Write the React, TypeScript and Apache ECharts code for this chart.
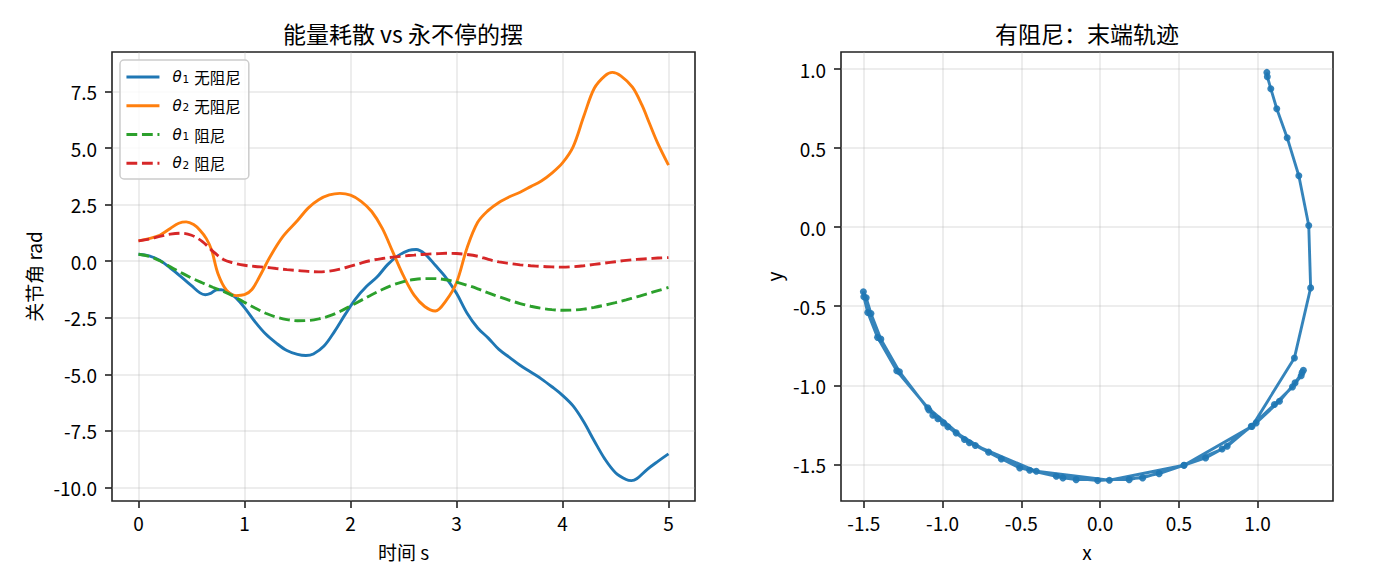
import React, { useEffect, useRef } from 'react';
import * as echarts from 'echarts';

const FONT = '"Noto Sans CJK SC", "Noto Sans", sans-serif';
const MATH = '"DejaVu Sans", sans-serif';

const BLUE = '#1f77b4';
const ORANGE = '#ff7f0e';
const GREEN = '#2ca02c';
const RED = '#d62728';
const DASH = [10.8, 4.7];

// 无阻尼：[t, rad]
const theta1Free: [number, number][] = [
  [0, 0.31], [0.1, 0.24], [0.2, 0.04], [0.3, -0.3], [0.4, -0.68], [0.5, -1.08], [0.58, -1.4], [0.63, -1.48],
  [0.68, -1.42], [0.74, -1.26], [0.78, -1.26], [0.85, -1.38], [0.92, -1.62], [1.0, -2.05], [1.1, -2.68],
  [1.2, -3.22], [1.3, -3.62], [1.4, -3.95], [1.5, -4.12], [1.58, -4.17], [1.65, -4.1], [1.75, -3.75],
  [1.85, -3.1], [1.95, -2.35], [2.05, -1.65], [2.15, -1.12], [2.25, -0.7], [2.35, -0.15], [2.45, 0.25],
  [2.55, 0.48], [2.62, 0.52], [2.7, 0.33], [2.8, -0.18], [2.9, -0.72], [3.0, -1.42], [3.1, -2.3],
  [3.2, -2.95], [3.3, -3.4], [3.4, -3.9], [3.5, -4.25], [3.6, -4.6], [3.7, -4.9], [3.8, -5.2], [3.9, -5.55],
  [4.0, -5.93], [4.1, -6.4], [4.2, -7.1], [4.3, -7.95], [4.4, -8.75], [4.5, -9.35], [4.6, -9.65],
  [4.65, -9.7], [4.7, -9.62], [4.8, -9.2], [4.9, -8.85], [5.0, -8.52],
];

const theta2Free: [number, number][] = [
  [0, 0.9], [0.1, 1.0], [0.2, 1.15], [0.3, 1.45], [0.38, 1.68], [0.45, 1.74], [0.52, 1.62], [0.58, 1.37],
  [0.64, 1.0], [0.69, 0.49], [0.75, -0.55], [0.83, -1.28], [0.92, -1.52], [1.0, -1.48], [1.07, -1.25],
  [1.14, -0.7], [1.24, 0.19], [1.36, 1.08], [1.5, 1.8], [1.6, 2.35], [1.7, 2.72], [1.8, 2.93], [1.9, 3.0],
  [2.0, 2.92], [2.1, 2.65], [2.2, 2.2], [2.3, 1.45], [2.4, 0.4], [2.5, -0.65], [2.6, -1.5], [2.7, -2.0],
  [2.8, -2.2], [2.9, -1.75], [3.0, -0.95], [3.1, 0.6], [3.2, 1.72], [3.3, 2.25], [3.4, 2.6], [3.5, 2.85],
  [3.6, 3.05], [3.7, 3.3], [3.8, 3.55], [3.9, 3.9], [4.0, 4.35], [4.1, 5.06], [4.2, 6.4], [4.3, 7.65],
  [4.4, 8.2], [4.47, 8.35], [4.55, 8.2], [4.66, 7.7], [4.75, 6.9], [4.82, 6.1], [4.9, 5.2], [5.0, 4.25],
];

// 阻尼：等间隔时间上的取值
const T = [
  0, 0.1, 0.2, 0.3, 0.4, 0.5, 0.6, 0.7, 0.8, 0.9, 1.0, 1.1, 1.2, 1.3, 1.4, 1.5, 1.6, 1.7, 1.8, 1.9, 2.0,
  2.1, 2.2, 2.3, 2.4, 2.5, 2.6, 2.7, 2.8, 2.9, 3.0, 3.1, 3.2, 3.3, 3.4, 3.5, 3.6, 3.7, 3.8, 3.9, 4.0,
  4.1, 4.2, 4.3, 4.4, 4.5, 4.6, 4.7, 4.8, 4.9, 5.0,
];
const theta1Damp = [
  0.31, 0.22, 0.02, -0.25, -0.5, -0.74, -0.95, -1.15, -1.33, -1.55, -1.82,
  -2.07, -2.3, -2.47, -2.58, -2.63, -2.62, -2.55, -2.42, -2.22, -1.98,
  -1.73, -1.48, -1.25, -1.05, -0.9, -0.81, -0.77, -0.77, -0.82, -0.92,
  -1.06, -1.22, -1.4, -1.57, -1.73, -1.87, -1.99, -2.08, -2.14, -2.17,
  -2.16, -2.12, -2.04, -1.94, -1.83, -1.71, -1.58, -1.44, -1.3, -1.16,
];
const theta2Damp = [
  0.9, 0.98, 1.1, 1.2, 1.24, 1.15, 0.88, 0.45, 0.08, -0.08, -0.18,
  -0.23, -0.27, -0.32, -0.37, -0.41, -0.45, -0.47, -0.44, -0.35, -0.22,
  -0.08, 0.04, 0.12, 0.18, 0.23, 0.27, 0.31, 0.33, 0.35, 0.34,
  0.3, 0.22, 0.08, -0.03, -0.1, -0.16, -0.2, -0.23, -0.25, -0.26,
  -0.24, -0.2, -0.14, -0.08, -0.02, 0.04, 0.08, 0.11, 0.14, 0.16,
];

// 有阻尼末端轨迹 (x, y)，按时间顺序
const tipPath: [number, number][] = [
  [1.059, 0.979], [1.062, 0.952], [1.084, 0.876], [1.122, 0.749], [1.188, 0.566], [1.262, 0.325],
  [1.325, 0.011], [1.337, -0.384], [1.234, -0.827], [0.965, -1.26], [0.533, -1.506], [0.059, -1.601],
  [-0.405, -1.544], [-0.83, -1.364], [-1.094, -1.142], [-1.291, -0.908], [-1.413, -0.697], [-1.475, -0.54],
  [-1.5, -0.44], [-1.503, -0.408],
  [-1.485, -0.447], [-1.455, -0.546], [-1.392, -0.708], [-1.274, -0.914], [-1.087, -1.157], [-0.914, -1.301],
  [-0.708, -1.423], [-0.51, -1.523], [-0.278, -1.576], [-0.015, -1.603], [0.27, -1.586], [0.533, -1.506],
  [0.775, -1.403], [0.991, -1.238], [1.139, -1.101], [1.238, -0.985], [1.283, -0.92], [1.291, -0.905],
  [1.277, -0.94], [1.222, -1.01], [1.107, -1.122], [0.96, -1.259], [0.807, -1.386], [0.67, -1.46],
  [0.375, -1.559], [0.185, -1.597], [-0.152, -1.597], [-0.236, -1.586], [-0.447, -1.538], [-0.627, -1.466],
  [-0.792, -1.381], [-0.861, -1.343], [-0.967, -1.263], [-0.994, -1.238], [-1.03, -1.212], [-1.062, -1.19],
];

const leftXTicks = [0, 1, 2, 3, 4, 5];
const leftYTicks = [-10, -7.5, -5, -2.5, 0, 2.5, 5, 7.5];
const tipTicks = [-1.5, -1, -0.5, 0, 0.5, 1];

const NAMES = ['θ1 无阻尼', 'θ2 无阻尼', 'θ1 阻尼', 'θ2 阻尼'];

// matplotlib 默认 5% 边距
function padRange(vals: number[]): [number, number] {
  const lo = Math.min(...vals);
  const hi = Math.max(...vals);
  const m = (hi - lo) * 0.05;
  return [lo - m, hi + m];
}

function valueAxis(opts: {
  grid: number; range: [number, number]; step: number; ticks: number[];
  fmt: (v: number) => string; name: string; gap: number; vertical: boolean;
}) {
  return {
    type: 'value',
    gridIndex: opts.grid,
    min: opts.range[0],
    max: opts.range[1],
    minInterval: opts.step,
    maxInterval: opts.step,
    name: opts.name,
    nameLocation: 'middle',
    nameGap: opts.gap,
    nameRotate: opts.vertical ? 90 : 0,
    nameTextStyle: { fontFamily: FONT, fontSize: 19, color: '#000' },
    axisLine: { show: false, onZero: false },
    axisTick: {
      show: true, inside: false, length: 7, customValues: opts.ticks,
      lineStyle: { color: '#222', width: 1.6 },
    },
    axisLabel: {
      show: true, customValues: opts.ticks, fontFamily: FONT, fontSize: 19, color: '#000',
      margin: opts.vertical ? 15 : 12,
      formatter: (v: number) => opts.fmt(v),
    },
    splitLine: { show: true, lineStyle: { color: '#b0b0b0', opacity: 0.3, width: 1.5 } },
  };
}

export default function App() {
  const ref = useRef<HTMLDivElement | null>(null);

  useEffect(() => {
    if (!ref.current) return;
    const chart = echarts.init(ref.current, null, { renderer: 'svg' });

    const damp1 = T.map((t, i) => [t, theta1Damp[i]]);
    const damp2 = T.map((t, i) => [t, theta2Damp[i]]);
    const allT = [...theta1Free, ...theta2Free].map(p => p[0]).concat(T);
    const allY = [...theta1Free, ...theta2Free].map(p => p[1]).concat(theta1Damp, theta2Damp);

    const frame = { show: true, borderColor: '#222', borderWidth: 1.6, backgroundColor: 'transparent' };

    chart.setOption({
      animation: false,
      backgroundColor: '#fff',
      title: [
        {
          text: '能量耗散 vs 永不停的摆', left: 403, top: 21, padding: 0, textAlign: 'center',
          textStyle: { fontFamily: FONT, fontSize: 23, fontWeight: 'normal', color: '#000' },
        },
        {
          text: '有阻尼：末端轨迹', left: 1087, top: 21, padding: 0, textAlign: 'center',
          textStyle: { fontFamily: FONT, fontSize: 23, fontWeight: 'normal', color: '#000' },
        },
      ],
      legend: {
        orient: 'vertical', left: 120, top: 60,
        padding: [9, 8, 8, 5],
        itemWidth: 33, itemHeight: 14, itemGap: 13,
        backgroundColor: 'rgba(255,255,255,0.8)', borderColor: '#cccccc', borderWidth: 1.5, borderRadius: 4,
        itemStyle: { opacity: 0, borderWidth: 0 },
        lineStyle: { width: 2.9 },
        data: NAMES,
        formatter: (name: string) => {
          const [sym, rest] = name.split(' ');
          return `{th|θ}{sub|${sym.slice(1)}}{zh|${rest}}`;
        },
        textStyle: {
          fontFamily: FONT, fontSize: 15, color: '#000', padding: [0, 0, 0, 8], lineHeight: 14,
          rich: {
            th: { fontFamily: MATH, fontStyle: 'italic', fontSize: 15, color: '#000', lineHeight: 14 },
            sub: { fontFamily: MATH, fontSize: 10.5, color: '#000', lineHeight: 14, verticalAlign: 'bottom', padding: [4, 5, 0, 1] },
            zh: { fontFamily: FONT, fontSize: 15.5, color: '#000', lineHeight: 14 },
          },
        },
      },
      grid: [
        { left: 112, top: 52, width: 583, height: 449, ...frame },
        { left: 841, top: 52, width: 492, height: 449, ...frame },
      ],
      xAxis: [
        valueAxis({ grid: 0, range: padRange(allT), step: 1, ticks: leftXTicks, fmt: v => String(v), name: '时间 s', gap: 41, vertical: false }),
        valueAxis({ grid: 1, range: padRange(tipPath.map(p => p[0])), step: 0.5, ticks: tipTicks, fmt: v => v.toFixed(1), name: 'x', gap: 41, vertical: false }),
      ],
      yAxis: [
        valueAxis({ grid: 0, range: padRange(allY), step: 2.5, ticks: leftYTicks, fmt: v => v.toFixed(1), name: '关节角 rad', gap: 69, vertical: true }),
        valueAxis({ grid: 1, range: padRange(tipPath.map(p => p[1])), step: 0.5, ticks: tipTicks, fmt: v => v.toFixed(1), name: 'y', gap: 58, vertical: true }),
      ],
      series: [
        {
          type: 'line', name: NAMES[0], data: theta1Free, xAxisIndex: 0, yAxisIndex: 0,
          symbol: 'none', smooth: 0.35, lineStyle: { color: BLUE, width: 2.9 }, itemStyle: { color: BLUE },
        },
        {
          type: 'line', name: NAMES[1], data: theta2Free, xAxisIndex: 0, yAxisIndex: 0,
          symbol: 'none', smooth: 0.35, lineStyle: { color: ORANGE, width: 2.9 }, itemStyle: { color: ORANGE },
        },
        {
          type: 'line', name: NAMES[2], data: damp1, xAxisIndex: 0, yAxisIndex: 0,
          symbol: 'none', smooth: 0.35, lineStyle: { color: GREEN, width: 2.9, type: DASH }, itemStyle: { color: GREEN },
        },
        {
          type: 'line', name: NAMES[3], data: damp2, xAxisIndex: 0, yAxisIndex: 0,
          symbol: 'none', smooth: 0.35, lineStyle: { color: RED, width: 2.9, type: DASH }, itemStyle: { color: RED },
        },
        {
          type: 'line', name: 'tip', data: tipPath, xAxisIndex: 1, yAxisIndex: 1,
          symbol: 'circle', symbolSize: 7, showSymbol: true,
          lineStyle: { color: BLUE, width: 2.9, opacity: 0.9 }, itemStyle: { color: BLUE, opacity: 0.9 },
        },
      ],
    });

    return () => { chart.dispose(); };
  }, []);

  return (
    <div
      ref={ref}
      style={{ position: 'absolute', left: 0, top: 0, width: 1400, height: 588, background: '#fff' }}
    />
  );
}
